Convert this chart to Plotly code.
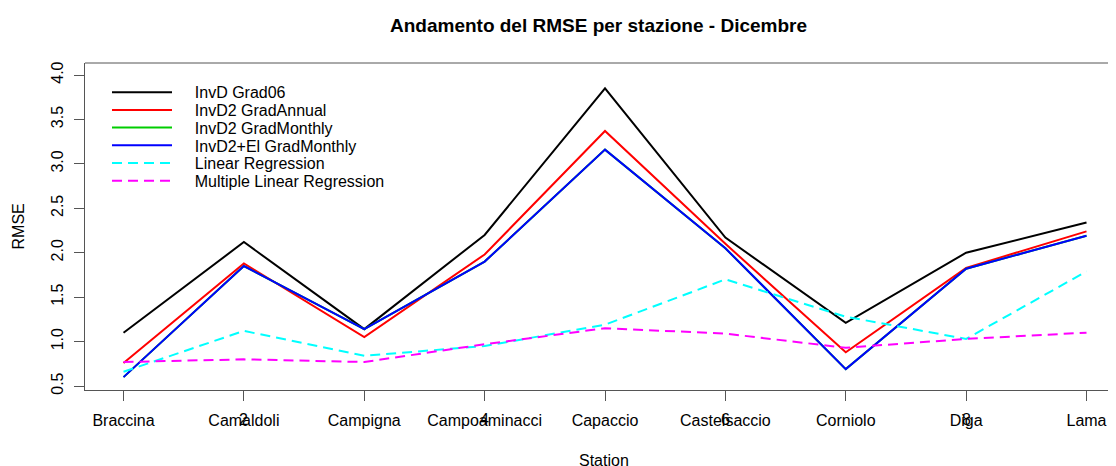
import plotly.graph_objects as go

stations = ["Braccina", "Camaldoli", "Campigna", "Campoaminacci", "Capaccio",
            "Castelsaccio", "Corniolo", "Diga", "Lama"]
station_idx = [1, 2, 3, 4, 5, 6, 7, 8, 9]

invd_grad06 = [1.10, 2.12, 1.14, 2.20, 3.85, 2.17, 1.21, 2.00, 2.34]
invd2_gradannual = [0.76, 1.88, 1.05, 1.98, 3.37, 2.10, 0.88, 1.83, 2.24]
invd2_gradmonthly = [0.60, 1.85, 1.14, 1.90, 3.16, 2.05, 0.69, 1.82, 2.19]
invd2el_gradmonthly = [0.60, 1.85, 1.14, 1.90, 3.16, 2.05, 0.69, 1.82, 2.19]
linear_reg = [0.66, 1.12, 0.84, 0.95, 1.19, 1.70, 1.28, 1.03, 1.79]
multi_linear_reg = [0.77, 0.80, 0.77, 0.97, 1.15, 1.09, 0.93, 1.03, 1.10]

overlap_ticks = [2, 4, 6, 8]
y_ticks = [0.5, 1.0, 1.5, 2.0, 2.5, 3.0, 3.5, 4.0]

series = [
    ("InvD Grad06", invd_grad06, "#000000", "solid"),
    ("InvD2 GradAnnual", invd2_gradannual, "#FF0000", "solid"),
    ("InvD2 GradMonthly", invd2_gradmonthly, "#00CD00", "solid"),
    ("InvD2+El GradMonthly", invd2el_gradmonthly, "#0000FF", "solid"),
    ("Linear Regression", linear_reg, "#00FFFF", "10px,6px"),
    ("Multiple Linear Regression", multi_linear_reg, "#FF00FF", "10px,6px"),
]

# The page body has an 8px margin, so the figure is drawn 8px in from the
# top-left corner of the window; lay everything out in figure pixels.
OFF = 8
W, H = 1116 - OFF, 466 - OFF
PL, PT, PB = 85 - OFF, 63 - OFF, 390 - OFF     # plot left / top / bottom
PW, PH = W - PL, PB - PT

FONT = "Liberation Sans, Arial, sans-serif"
AXC = "#555555"
NB = "\u00a0" * 4

def px_x(px):
    return (px - OFF - PL) / PW

def px_y(py):
    return 1 - (py - OFF - PT) / PH

fig = go.Figure()
legend_layouts = {}
leg_top_px = 92.3
leg_step = 17.7
for i, (name, vals, col, dash) in enumerate(series):
    lname = "legend" if i == 0 else f"legend{i+1}"
    fig.add_trace(go.Scatter(
        x=station_idx, y=vals, mode="lines", name=NB + name,
        line=dict(color=col, width=2, dash=dash),
        legend=lname, showlegend=True,
    ))
    legend_layouts[lname] = dict(
        x=px_x(107), xanchor="left",
        y=px_y(leg_top_px + i * leg_step), yanchor="middle",
        bgcolor="rgba(0,0,0,0)", borderwidth=0,
        font=dict(family=FONT, size=16, color="#000000"),
        itemwidth=60, tracegroupgap=0,
    )

annotations = [
    dict(text="Station", xref="paper", yref="paper",
         x=px_x(604), y=px_y(460),
         xanchor="center", yanchor="middle", showarrow=False,
         font=dict(family=FONT, size=16, color="#000000")),
    dict(text="RMSE", xref="paper", yref="paper",
         x=px_x(18), y=0.5, textangle=-90,
         xanchor="center", yanchor="middle", showarrow=False,
         font=dict(family=FONT, size=16, color="#000000")),
]
for t in overlap_ticks:
    annotations.append(dict(
        text=str(t), xref="x", yref="paper", x=t, y=px_y(420),
        xanchor="center", yanchor="middle", showarrow=False,
        font=dict(family=FONT, size=16, color="#000000")))

fig.update_layout(
    width=W, height=H,
    margin=dict(l=PL, r=0, t=PT, b=H - PB, autoexpand=False),
    paper_bgcolor="white", plot_bgcolor="white",
    font=dict(family=FONT, size=16, color="#000000"),
    title=dict(text="Andamento del RMSE per stazione - Dicembre",
               x=(598.5 - OFF) / W, xanchor="center", xref="container",
               y=1 - (25.7 - OFF) / H, yanchor="middle", yref="container",
               font=dict(family=FONT, size=19, color="#000000", weight="bold")),
    xaxis=dict(range=[0.68, 9.245], tickvals=station_idx, ticktext=stations,
               showgrid=False, zeroline=False, showline=True, linecolor=AXC,
               linewidth=1, ticks="outside", ticklen=10, tickcolor=AXC,
               ticklabelstandoff=6, automargin=False,
               tickfont=dict(family=FONT, size=16, color="#000000")),
    yaxis=dict(range=[0.455, 4.135], tickvals=y_ticks,
               ticktext=[f"{v:.1f}" for v in y_ticks], tickangle=-90,
               showgrid=False, zeroline=False, showline=True, linecolor=AXC,
               linewidth=1, ticks="outside", ticklen=10, tickcolor=AXC,
               ticklabelstandoff=5, automargin=False,
               tickfont=dict(family=FONT, size=16, color="#000000")),
    shapes=[dict(type="line", xref="paper", yref="paper", x0=0, x1=1, y0=1, y1=1,
                 line=dict(color=AXC, width=1))],
    annotations=annotations,
    **legend_layouts,
)

fig.write_html("out.html")
